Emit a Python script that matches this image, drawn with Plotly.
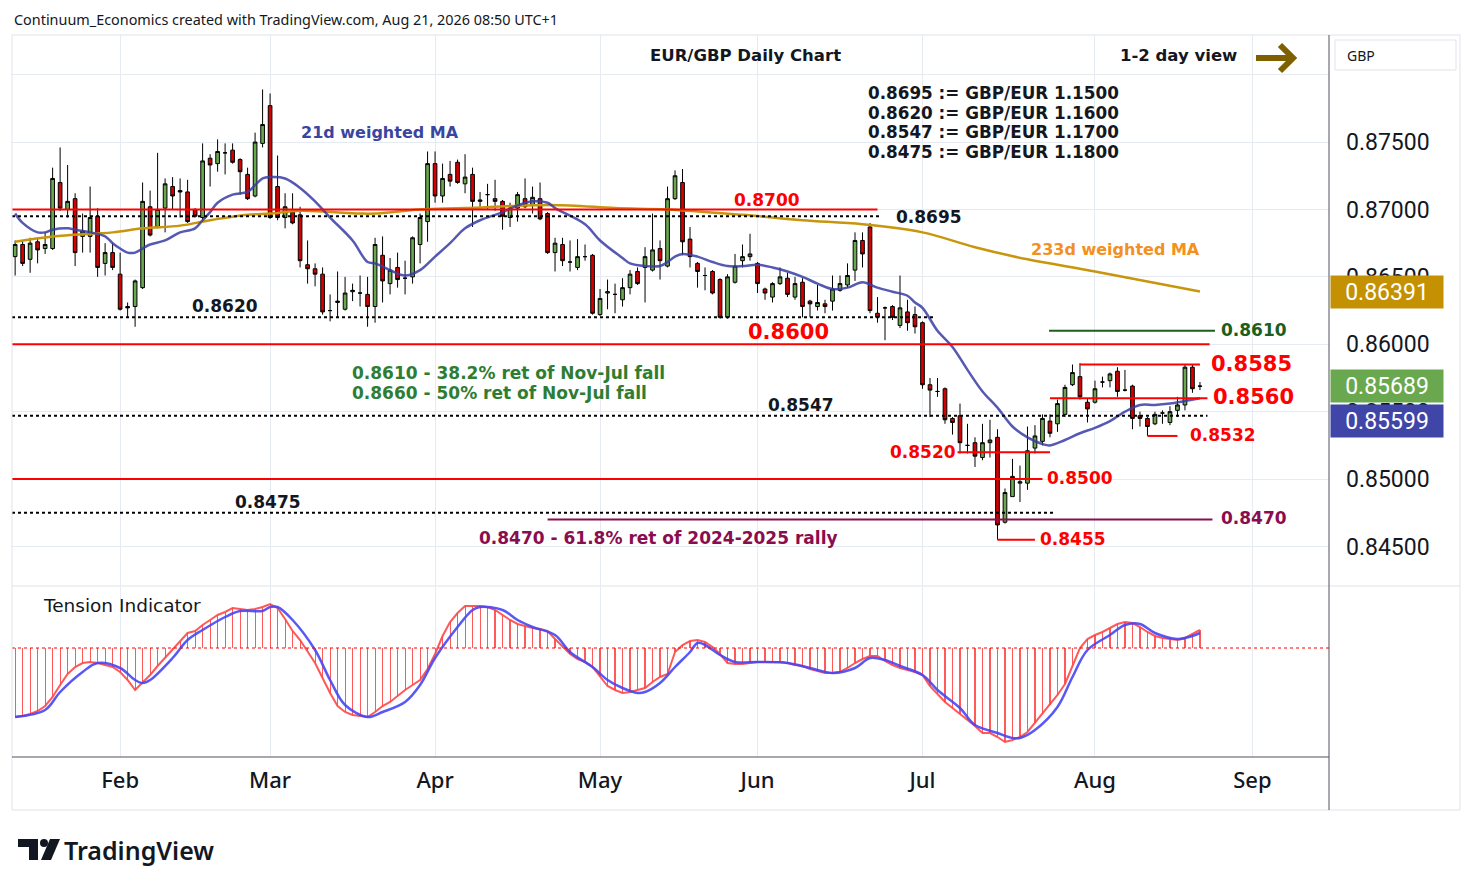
import pandas as pd
import plotly.graph_objects as go

# -----------------------------
# CANVAS HELPERS (pixel -> paper)
# -----------------------------
W, H = 1474, 887


def px(x):
    return x / W


def py(y):
    return 1 - y / H


# ============================================================
# DATA : EUR/GBP daily candles, Jan 13 -> Aug 21 2026
# ============================================================
dates = pd.bdate_range("2026-01-13", "2026-08-21")

opens = [
    0.8665, 0.8674, 0.8663, 0.8676, 0.8671, 0.8671, 0.8720, 0.8700, 0.8708, 0.8680,
    0.8680, 0.8695, 0.8660, 0.8668, 0.8652, 0.8628, 0.8628, 0.8642, 0.8702, 0.8687,
    0.8701, 0.8717, 0.8714, 0.8713, 0.8700, 0.8694, 0.8738, 0.8734, 0.8742, 0.8744,
    0.8737, 0.8726, 0.8710, 0.8749, 0.8777, 0.8717, 0.8694, 0.8698, 0.8696, 0.8659,
    0.8656, 0.8652, 0.8625, 0.8631, 0.8626, 0.8639, 0.8638, 0.8637, 0.8628, 0.8666,
    0.8645, 0.8657, 0.8649, 0.8650, 0.8674, 0.8691, 0.8734, 0.8710, 0.8726, 0.8735,
    0.8719, 0.8726, 0.8706, 0.8711, 0.8708, 0.8706, 0.8694, 0.8701, 0.8708, 0.8703,
    0.8708, 0.8697, 0.8668, 0.8674, 0.8661, 0.8657, 0.8665, 0.8666, 0.8622, 0.8638,
    0.8637, 0.8633, 0.8642, 0.8654, 0.8657, 0.8655, 0.8671, 0.8658, 0.8708, 0.8720,
    0.8678, 0.8660, 0.8651, 0.8654, 0.8648, 0.8620, 0.8646, 0.8662, 0.8665, 0.8660,
    0.8641, 0.8635, 0.8645, 0.8649, 0.8635, 0.8646, 0.8632, 0.8628, 0.8630, 0.8632,
    0.8640, 0.8644, 0.8655, 0.8677, 0.8687, 0.8623, 0.8627, 0.8628, 0.8614, 0.8624,
    0.8622, 0.8616, 0.8570, 0.8565, 0.8567, 0.8545, 0.8547, 0.8525, 0.8527, 0.8516,
    0.8527, 0.8531, 0.8468, 0.8487, 0.8497, 0.8497, 0.8523, 0.8528, 0.8543, 0.8541,
    0.8548, 0.8570, 0.8576, 0.8557, 0.8557, 0.8572, 0.8573, 0.8580, 0.8566, 0.8569,
    0.8547, 0.8545, 0.8541, 0.8549, 0.8542, 0.8551, 0.8555, 0.8583, 0.8569,
]
highs = [
    0.8677, 0.8677, 0.8679, 0.8679, 0.8683, 0.8731, 0.8746, 0.8733, 0.8712, 0.8697,
    0.8717, 0.8701, 0.8675, 0.8675, 0.8668, 0.8631, 0.8648, 0.8720, 0.8714, 0.8742,
    0.8723, 0.8724, 0.8723, 0.8722, 0.8701, 0.8749, 0.8741, 0.8752, 0.8749, 0.8749,
    0.8738, 0.8731, 0.8757, 0.8789, 0.8786, 0.8740, 0.8712, 0.8712, 0.8702, 0.8677,
    0.8660, 0.8657, 0.8637, 0.8654, 0.8650, 0.8645, 0.8651, 0.8650, 0.8679, 0.8680,
    0.8664, 0.8668, 0.8662, 0.8680, 0.8697, 0.8743, 0.8743, 0.8734, 0.8736, 0.8737,
    0.8741, 0.8731, 0.8713, 0.8719, 0.8722, 0.8707, 0.8705, 0.8713, 0.8723, 0.8717,
    0.8720, 0.8698, 0.8679, 0.8679, 0.8677, 0.8678, 0.8674, 0.8667, 0.8641, 0.8648,
    0.8645, 0.8649, 0.8655, 0.8657, 0.8672, 0.8697, 0.8677, 0.8717, 0.8729, 0.8730,
    0.8687, 0.8661, 0.8657, 0.8655, 0.8649, 0.8652, 0.8667, 0.8674, 0.8682, 0.8661,
    0.8642, 0.8646, 0.8657, 0.8653, 0.8650, 0.8649, 0.8633, 0.8644, 0.8633, 0.8651,
    0.8651, 0.8660, 0.8683, 0.8683, 0.8690, 0.8635, 0.8628, 0.8629, 0.8651, 0.8633,
    0.8628, 0.8617, 0.8575, 0.8575, 0.8568, 0.8546, 0.8556, 0.8541, 0.8531, 0.8541,
    0.8544, 0.8537, 0.8493, 0.8515, 0.8510, 0.8539, 0.8540, 0.8548, 0.8548, 0.8559,
    0.8570, 0.8585, 0.8586, 0.8560, 0.8573, 0.8576, 0.8579, 0.8583, 0.8581, 0.8570,
    0.8550, 0.8546, 0.8550, 0.8551, 0.8554, 0.8561, 0.8585, 0.8585, 0.8572,
]
lows = [
    0.8651, 0.8658, 0.8653, 0.8660, 0.8667, 0.8670, 0.8699, 0.8694, 0.8658, 0.8668,
    0.8668, 0.8650, 0.8651, 0.8655, 0.8625, 0.8620, 0.8613, 0.8641, 0.8680, 0.8686,
    0.8683, 0.8700, 0.8694, 0.8690, 0.8694, 0.8692, 0.8717, 0.8728, 0.8726, 0.8734,
    0.8711, 0.8707, 0.8709, 0.8746, 0.8693, 0.8692, 0.8686, 0.8689, 0.8657, 0.8645,
    0.8643, 0.8622, 0.8617, 0.8620, 0.8625, 0.8632, 0.8628, 0.8613, 0.8616, 0.8631,
    0.8637, 0.8642, 0.8637, 0.8645, 0.8660, 0.8676, 0.8705, 0.8705, 0.8717, 0.8719,
    0.8712, 0.8687, 0.8702, 0.8700, 0.8699, 0.8685, 0.8687, 0.8691, 0.8701, 0.8697,
    0.8692, 0.8667, 0.8654, 0.8658, 0.8654, 0.8655, 0.8662, 0.8622, 0.8621, 0.8626,
    0.8623, 0.8628, 0.8637, 0.8644, 0.8631, 0.8654, 0.8648, 0.8657, 0.8707, 0.8666,
    0.8657, 0.8642, 0.8640, 0.8637, 0.8619, 0.8619, 0.8645, 0.8657, 0.8662, 0.8638,
    0.8633, 0.8631, 0.8644, 0.8635, 0.8633, 0.8620, 0.8620, 0.8625, 0.8623, 0.8625,
    0.8639, 0.8642, 0.8647, 0.8657, 0.8623, 0.8616, 0.8603, 0.8618, 0.8612, 0.8610,
    0.8608, 0.8567, 0.8546, 0.8561, 0.8541, 0.8533, 0.8519, 0.8519, 0.8509, 0.8514,
    0.8516, 0.8455, 0.8467, 0.8487, 0.8483, 0.8492, 0.8519, 0.8525, 0.8531, 0.8535,
    0.8546, 0.8569, 0.8559, 0.8542, 0.8556, 0.8568, 0.8568, 0.8561, 0.8565, 0.8537,
    0.8539, 0.8532, 0.8540, 0.8541, 0.8540, 0.8546, 0.8551, 0.8564, 0.8566,
]
closes = [
    0.8674, 0.8660, 0.8675, 0.8670, 0.8674, 0.8723, 0.8701, 0.8706, 0.8668, 0.8684,
    0.8694, 0.8657, 0.8668, 0.8657, 0.8626, 0.8627, 0.8647, 0.8706, 0.8681, 0.8700,
    0.8719, 0.8710, 0.8713, 0.8691, 0.8695, 0.8736, 0.8733, 0.8743, 0.8742, 0.8735,
    0.8728, 0.8708, 0.8750, 0.8763, 0.8694, 0.8694, 0.8702, 0.8690, 0.8662, 0.8656,
    0.8652, 0.8624, 0.8625, 0.8632, 0.8638, 0.8640, 0.8638, 0.8628, 0.8674, 0.8647,
    0.8655, 0.8648, 0.8649, 0.8679, 0.8694, 0.8734, 0.8710, 0.8723, 0.8721, 0.8720,
    0.8724, 0.8706, 0.8707, 0.8711, 0.8706, 0.8695, 0.8701, 0.8711, 0.8702, 0.8709,
    0.8693, 0.8668, 0.8675, 0.8662, 0.8661, 0.8665, 0.8665, 0.8623, 0.8634, 0.8639,
    0.8637, 0.8642, 0.8652, 0.8645, 0.8665, 0.8670, 0.8662, 0.8708, 0.8725, 0.8676,
    0.8665, 0.8654, 0.8651, 0.8638, 0.8620, 0.8650, 0.8658, 0.8665, 0.8667, 0.8645,
    0.8638, 0.8645, 0.8650, 0.8637, 0.8645, 0.8628, 0.8630, 0.8631, 0.8628, 0.8641,
    0.8645, 0.8651, 0.8677, 0.8667, 0.8625, 0.8620, 0.8627, 0.8620, 0.8627, 0.8616,
    0.8613, 0.8570, 0.8566, 0.8565, 0.8544, 0.8542, 0.8527, 0.8525, 0.8517, 0.8527,
    0.8529, 0.8466, 0.8490, 0.8502, 0.8498, 0.8521, 0.8532, 0.8545, 0.8534, 0.8556,
    0.8568, 0.8579, 0.8561, 0.8552, 0.8567, 0.8572, 0.8578, 0.8565, 0.8566, 0.8545,
    0.8545, 0.8539, 0.8548, 0.8549, 0.8550, 0.8555, 0.8583, 0.8567, 0.85689,
]

# 21d weighted MA (blue) read at bar positions
ma21_idx = [0, 1, 3, 4, 5, 7, 8, 10, 12, 13, 14, 15, 16, 17, 18, 20, 22, 24, 25, 26,
            27, 29, 31, 32, 33, 34, 36, 38, 40, 42, 45, 47, 48, 50, 52, 54, 56, 58, 60, 62,
            65, 67, 69, 71, 72, 76, 78, 81, 82, 84, 86, 87, 88, 89, 91, 93, 95, 97, 99, 101,
            103, 105, 107, 109, 111, 113, 115, 117, 119, 120, 121, 123, 125, 127, 129, 131,
            133, 135, 137, 138, 140, 142, 144, 146, 148, 150, 152, 154, 156, 158]
ma21_val = [0.8697, 0.8690, 0.8683, 0.8683, 0.8685, 0.8686, 0.8685, 0.8683, 0.8680, 0.8675,
            0.8671, 0.8668, 0.8668, 0.8671, 0.8674, 0.8677, 0.8683, 0.8686, 0.8692, 0.8698,
            0.8705, 0.8711, 0.8713, 0.8718, 0.8723, 0.8724, 0.8723, 0.8716, 0.8706, 0.8694,
            0.8677, 0.8661, 0.8660, 0.8655, 0.8651, 0.8655, 0.8665, 0.8675, 0.8686, 0.8692,
            0.8698, 0.8703, 0.8706, 0.8705, 0.8701, 0.8689, 0.8677, 0.8664, 0.8660, 0.8658,
            0.8658, 0.8661, 0.8665, 0.8667, 0.8665, 0.8661, 0.8658, 0.8658, 0.8659, 0.8657,
            0.8654, 0.8650, 0.8645, 0.8641, 0.8642, 0.8646, 0.8642, 0.8639, 0.8636, 0.8631,
            0.8627, 0.8610, 0.8598, 0.8581, 0.8565, 0.8553, 0.8539, 0.8531, 0.8526, 0.8525,
            0.8529, 0.8534, 0.8538, 0.8543, 0.8550, 0.8555, 0.8555, 0.8556, 0.8558, 0.85599]

# 233d weighted MA (gold)
ma233_idx = [0, 5, 13, 17, 22, 26, 31, 34, 38, 46, 48, 54, 60, 68, 74, 80, 87, 97, 105,
             113, 121, 128, 135, 144, 158]
ma233_val = [0.8676, 0.8680, 0.8683, 0.8686, 0.8688, 0.8692, 0.8696, 0.8697, 0.8699, 0.8697,
             0.8697, 0.8700, 0.8701, 0.8703, 0.8703, 0.8701, 0.8700, 0.8696, 0.8692, 0.8689,
             0.8683, 0.8672, 0.8663, 0.8654, 0.86391]

# Tension indicator: oscillator (red, one value per bar) and signal (blue)
tension = [
    -0.69, -0.68, -0.66, -0.63, -0.58, -0.49, -0.37, -0.26, -0.19, -0.15,
    -0.14, -0.15, -0.17, -0.19, -0.24, -0.32, -0.42, -0.35, -0.27, -0.18,
    -0.10, -0.01, 0.07, 0.15, 0.17, 0.23, 0.28, 0.33, 0.36, 0.40,
    0.39, 0.38, 0.39, 0.41, 0.44, 0.40, 0.29, 0.17, 0.08, -0.03,
    -0.15, -0.30, -0.45, -0.58, -0.64, -0.67, -0.68, -0.69, -0.64, -0.58,
    -0.54, -0.48, -0.42, -0.37, -0.32, -0.21, -0.06, 0.12, 0.26, 0.35,
    0.42, 0.42, 0.42, 0.41, 0.38, 0.33, 0.28, 0.24, 0.22, 0.20,
    0.19, 0.17, 0.09, 0.01, -0.06, -0.11, -0.14, -0.19, -0.29, -0.38,
    -0.42, -0.45, -0.44, -0.42, -0.40, -0.34, -0.29, -0.26, -0.04, 0.03,
    0.07, 0.08, 0.06, 0.01, -0.06, -0.15, -0.16, -0.16, -0.15, -0.14,
    -0.14, -0.14, -0.14, -0.15, -0.17, -0.18, -0.21, -0.23, -0.25, -0.25,
    -0.24, -0.20, -0.15, -0.11, -0.08, -0.08, -0.13, -0.17, -0.20, -0.22,
    -0.24, -0.27, -0.38, -0.46, -0.54, -0.60, -0.66, -0.72, -0.78, -0.85,
    -0.85, -0.89, -0.94, -0.92, -0.89, -0.84, -0.75, -0.66, -0.57, -0.47,
    -0.36, -0.17, 0.00, 0.09, 0.13, 0.16, 0.20, 0.24, 0.26, 0.25,
    0.21, 0.16, 0.12, 0.10, 0.09, 0.08, 0.10, 0.14, 0.18,
]
signal_idx = [0, 4, 6, 9, 11, 14, 16, 17, 18, 21, 23, 25, 28, 30, 33, 34, 35, 37, 40, 42,
              44, 47, 49, 52, 54, 56, 59, 61, 62, 65, 67, 69, 72, 74, 77, 79, 81, 83, 84, 86,
              88, 90, 91, 92, 94, 96, 99, 103, 106, 109, 112, 114, 116, 118, 121, 123, 126,
              128, 131, 133, 134, 136, 139, 141, 143, 146, 148, 150, 152, 155, 157, 158]
signal_val = [-0.69, -0.62, -0.44, -0.24, -0.15, -0.20, -0.32, -0.35, -0.32, -0.10,
              0.08, 0.18, 0.31, 0.37, 0.37, 0.41, 0.41, 0.28, -0.02, -0.32,
              -0.57, -0.69, -0.64, -0.54, -0.37, -0.10, 0.21, 0.38, 0.41, 0.38,
              0.28, 0.21, 0.13, -0.04, -0.19, -0.32, -0.40, -0.45, -0.44, -0.35,
              -0.19, -0.04, 0.05, 0.03, -0.07, -0.14, -0.14, -0.15, -0.20, -0.25,
              -0.20, -0.10, -0.12, -0.18, -0.27, -0.42, -0.60, -0.77, -0.85, -0.90,
              -0.90, -0.82, -0.59, -0.29, -0.02, 0.13, 0.23, 0.24, 0.15, 0.09,
              0.12, 0.15]

month_ticks = ["2026-02-02", "2026-03-02", "2026-04-01", "2026-05-01",
               "2026-06-01", "2026-07-01", "2026-08-03", "2026-09-01"]
month_text = ["Feb", "Mar", "Apr", "May", "Jun", "Jul", "Aug", "Sep"]
price_ticks = [0.845, 0.850, 0.855, 0.860, 0.865, 0.870, 0.875, 0.880]

gbp_eur = ["0.8695 := GBP/EUR 1.1500", "0.8620 := GBP/EUR 1.1600",
           "0.8547 := GBP/EUR 1.1700", "0.8475 := GBP/EUR 1.1800"]

# levels: price, start, end, colour, dash
x_left = "2026-01-12 14:00"
x_right = "2026-09-15 05:00"
levels = [
    (0.8700, x_left, "2026-06-23", "#ff0000", "solid"),
    (0.8695, x_left, "2026-06-23 12:00", "#000000", "dot"),
    (0.8620, x_left, "2026-07-02 16:00", "#000000", "dot"),
    (0.8600, x_left, "2026-08-24 07:00", "#ff0000", "solid"),
    (0.8610, "2026-07-23 21:00", "2026-08-25", "#1b5e20", "solid"),
    (0.8585, "2026-07-30", "2026-08-21", "#ff0000", "solid"),
    (0.8560, "2026-07-24", "2026-08-24", "#ff0000", "solid"),
    (0.8547, x_left, "2026-08-24", "#000000", "dot"),
    (0.8532, "2026-08-12", "2026-08-18", "#ff0000", "solid"),
    (0.8520, "2026-07-07 16:00", "2026-07-24", "#ff0000", "solid"),
    (0.8500, x_left, "2026-07-23", "#ff0000", "solid"),
    (0.8475, x_left, "2026-07-24 16:00", "#000000", "dot"),
    (0.8470, "2026-04-22", "2026-08-24 16:00", "#880e4f", "solid"),
    (0.8455, "2026-07-15", "2026-07-22", "#ff0000", "solid"),
]

FONT = "DejaVu Sans"
UI_FONT = "Noto Sans"
INK = "#131722"

# ============================================================
# FIGURE
# ============================================================
fig = go.Figure()

fig.add_trace(go.Candlestick(
    x=dates, open=opens, high=highs, low=lows, close=closes,
    increasing=dict(fillcolor="#6aa84f", line=dict(color="#000000", width=1)),
    decreasing=dict(fillcolor="#d50000", line=dict(color="#000000", width=1)),
    whiskerwidth=0, showlegend=False, xaxis="x", yaxis="y",
))
fig.add_trace(go.Scatter(
    x=[dates[i] for i in ma233_idx], y=ma233_val, mode="lines",
    line=dict(color="#c8960c", width=2.5, shape="spline"),
    showlegend=False, xaxis="x", yaxis="y",
))
fig.add_trace(go.Scatter(
    x=[dates[i] for i in ma21_idx], y=ma21_val, mode="lines",
    line=dict(color="rgba(55,60,165,0.85)", width=2.5, shape="spline"),
    showlegend=False, xaxis="x", yaxis="y",
))

# tension panel
fig.add_trace(go.Bar(
    x=dates, y=tension, width=86400000 * 0.15,
    marker=dict(color="rgba(255,60,60,0.85)", line=dict(width=0)),
    showlegend=False, xaxis="x2", yaxis="y2",
))
fig.add_trace(go.Scatter(
    x=dates, y=tension, mode="lines",
    line=dict(color="rgba(255,70,70,0.9)", width=2),
    showlegend=False, xaxis="x2", yaxis="y2",
))
fig.add_trace(go.Scatter(
    x=[dates[i] for i in signal_idx], y=signal_val, mode="lines",
    line=dict(color="rgba(70,70,245,0.9)", width=2.5, shape="spline"),
    showlegend=False, xaxis="x2", yaxis="y2",
))

shapes = []
for lvl, x0, x1, col, dash in levels:
    shapes.append(dict(type="line", xref="x", yref="y", x0=x0, x1=x1, y0=lvl, y1=lvl,
                       line=dict(color=col, width=2, dash=dash)))
shapes.append(dict(type="line", xref="x2", yref="y2", x0=x_left, x1=x_right, y0=0, y1=0,
                   line=dict(color="#ff0000", width=1, dash="dot")))

# frame and dividers
shapes += [
    dict(type="rect", xref="paper", yref="paper", x0=px(12), x1=px(1460), y0=py(810), y1=py(35),
         line=dict(color="#e0e3eb", width=1)),
    dict(type="line", xref="paper", yref="paper", x0=px(12), x1=px(1460), y0=py(586), y1=py(586),
         line=dict(color="#e0e3eb", width=1)),
    dict(type="line", xref="paper", yref="paper", x0=px(12), x1=px(1329), y0=py(757), y1=py(757),
         line=dict(color="#50535e", width=1)),
    dict(type="line", xref="paper", yref="paper", x0=px(1329), x1=px(1329), y0=py(810), y1=py(35),
         line=dict(color="#50535e", width=1)),
    dict(type="rect", xref="paper", yref="paper", x0=px(1335), x1=px(1456), y0=py(70), y1=py(40),
         line=dict(color="#e0e3eb", width=1), fillcolor="white"),
]

# olive arrow next to "1-2 day view"
arrow = "M {} {} L {} {} M {} {} L {} {} L {} {}".format(
    px(1256), py(58), px(1290), py(58), px(1280), py(45), px(1293), py(58), px(1280), py(71))
shapes.append(dict(type="path", xref="paper", yref="paper", path=arrow,
                   line=dict(color="#7f6000", width=6)))

# TradingView logo bits
def poly(points):
    return "M " + " L ".join("{} {}".format(px(a), py(b)) for a, b in points) + " Z"


shapes += [
    dict(type="path", xref="paper", yref="paper",
         path=poly([(18, 839), (38, 839), (38, 860), (29, 860), (29, 847), (18, 847)]),
         fillcolor=INK, line=dict(width=0)),
    dict(type="circle", xref="paper", yref="paper", x0=px(40), x1=px(48), y0=py(847), y1=py(839),
         fillcolor=INK, line=dict(width=0)),
    dict(type="path", xref="paper", yref="paper",
         path=poly([(50, 839), (60, 839), (51, 860), (41, 860)]),
         fillcolor=INK, line=dict(width=0)),
]

annotations = []


def label(text, x, y, color=INK, size=17, weight=700, anchor="center", family=FONT):
    annotations.append(dict(text=text, x=px(x), y=py(y), xref="paper", yref="paper",
                            xanchor=anchor, yanchor="middle", showarrow=False,
                            font=dict(family=family, size=size, color=color, weight=weight)))


label("Continuum_Economics created with TradingView.com, Aug 21, 2026 08:50 UTC+1",
      12, 19, size=14.4, weight=400, anchor="left", family=UI_FONT)
label("EUR/GBP Daily Chart", 745, 55, size=16.5)
label("1-2 day view", 1178, 55, size=16.5)
for k, t in enumerate(gbp_eur):
    label(t, 866, 93 + k * 19.7, size=16.8, anchor="left")
label("21d weighted MA", 380, 132, color="#3a45a0", size=16)
label("233d weighted MA", 1115, 250, color="#f39020", size=16)

label("0.8700", 767, 200, color="#ff0000")
label("0.8695", 929, 217)
label("0.8620", 225, 306)
label("0.8600", 788, 332, color="#ff0000", size=21)
label("0.8610", 1254, 330, color="#1b5e20")
label("0.8585", 1251, 364, color="#ff0000", size=21)
label("0.8560", 1253, 397, color="#ff0000", size=21)
label("0.8547", 801, 405)
label("0.8532", 1223, 435, color="#ff0000")
label("0.8520", 923, 452, color="#ff0000")
label("0.8500", 1080, 478, color="#ff0000")
label("0.8475", 268, 502)
label("0.8470", 1254, 518, color="#880e4f")
label("0.8455", 1073, 539, color="#ff0000")
label("0.8610 - 38.2% ret of Nov-Jul fall", 350, 373, color="#2e7d32", anchor="left")
label("0.8660 - 50% ret of Nov-Jul fall", 350, 393, color="#2e7d32", anchor="left")
label("0.8470 - 61.8% ret of 2024-2025 rally", 658, 538, color="#880e4f")
label("Tension Indicator", 41, 605, size=18.5, weight=400, anchor="left")
label("GBP", 1345, 55, size=14, weight=400, anchor="left", family=UI_FONT)
label("TradingView", 62, 850, size=25, weight=600, anchor="left", family=UI_FONT)

# last-value tags on the price axis
for val, bg, shift in [(ma233_val[-1], "#c49102", 0), (closes[-1], "#6aa84f", 0),
                       (ma21_val[-1], "#3f46a8", -23)]:
    annotations.append(dict(text="{:.5f}".format(val), x=px(1330), y=val, xref="paper", yref="y",
                            xanchor="left", yanchor="middle", yshift=shift, showarrow=False,
                            bgcolor=bg, width=110, height=30, borderpad=1, align="center",
                            font=dict(family="Roboto", size=23, color="white")))

fig.update_layout(
    width=W, height=H, margin=dict(l=0, r=0, t=0, b=0),
    paper_bgcolor="white", plot_bgcolor="white",
    shapes=shapes, annotations=annotations, bargap=0,
    xaxis=dict(domain=[px(12), px(1329)], range=[x_left, x_right],
               rangebreaks=[dict(bounds=["sat", "mon"])], rangeslider=dict(visible=False),
               tickvals=month_ticks, showticklabels=False, showgrid=True,
               gridcolor="#e6ebf1", zeroline=False, showline=False, anchor="y"),
    yaxis=dict(domain=[py(586), py(35)], range=[0.84207, 0.88294], side="right",
               tickvals=price_ticks,
               ticktext=["{:.5f}".format(v) for v in price_ticks[:-1]] + [""],
               tickfont=dict(family="Roboto", size=23, color=INK), ticks="",
               ticklabelstandoff=16, showgrid=True, gridcolor="#e6ebf1",
               zeroline=False, showline=False, anchor="x"),
    xaxis2=dict(domain=[px(12), px(1329)], range=[x_left, x_right], matches="x",
                rangebreaks=[dict(bounds=["sat", "mon"])],
                tickvals=month_ticks, ticktext=month_text, ticks="",
                tickfont=dict(family=UI_FONT, size=22, color=INK, weight=500),
                ticklabelstandoff=8, showgrid=True, gridcolor="#e6ebf1",
                zeroline=False, showline=False, anchor="y2"),
    yaxis2=dict(domain=[py(757), py(587)], range=[-1.09, 0.61], showticklabels=False,
                showgrid=False, zeroline=False, showline=False, anchor="x2"),
)

fig.write_html("out.html", config={"displayModeBar": False},
               post_script="document.body.style.margin='0';")
